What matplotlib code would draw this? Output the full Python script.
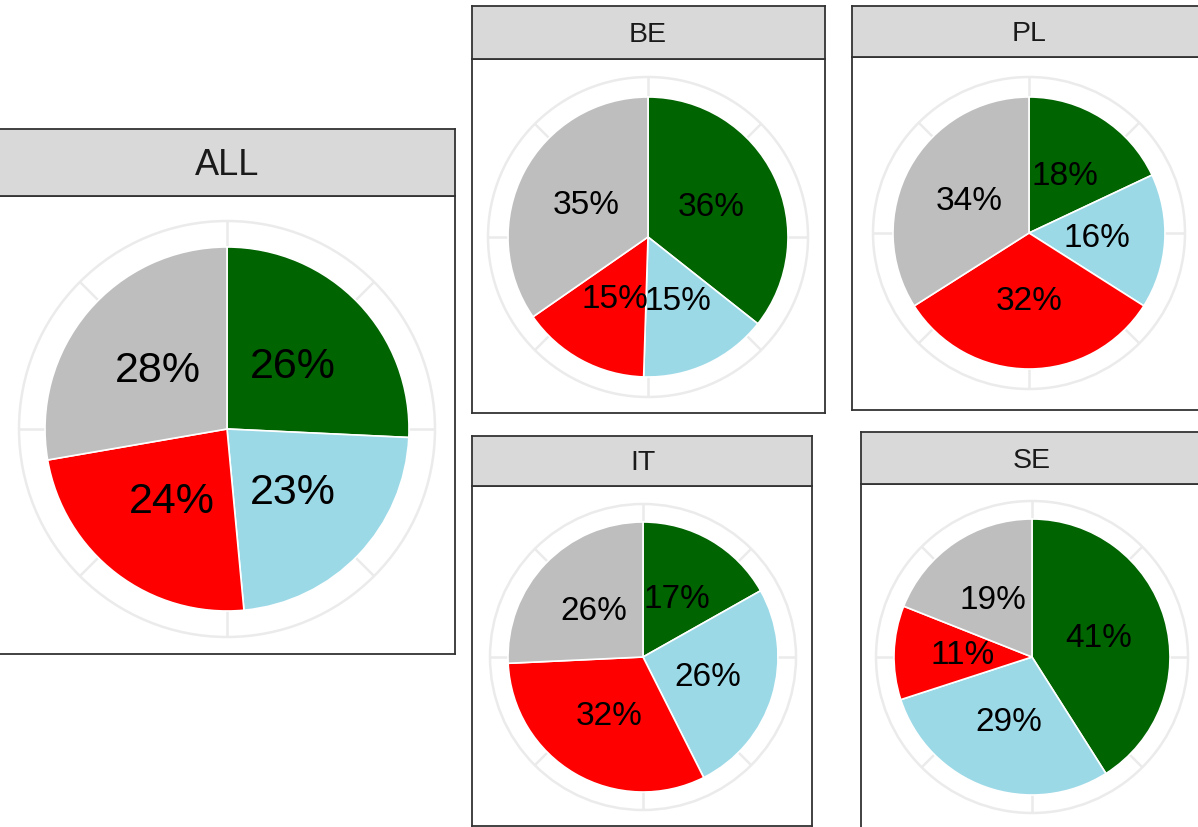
import matplotlib
matplotlib.use("Agg")
import matplotlib.pyplot as plt
import numpy as np
from matplotlib.patches import Circle

# ---- data ----
panels = ["ALL", "BE", "PL", "IT", "SE"]
colors = ["#006400", "#9CD9E7", "#FF0000", "#BEBEBE"]
all_vals = [26, 23, 24, 28]
be_vals = [36, 15, 15, 35]
pl_vals = [18, 16, 32, 34]
it_vals = [17, 26, 32, 26]
se_vals = [41, 29, 11, 19]
values = {"ALL": all_vals, "BE": be_vals, "PL": pl_vals, "IT": it_vals, "SE": se_vals}

W, H = 1198, 828
fig = plt.figure(figsize=(W / 100, H / 100), dpi=100)
fig.patch.set_facecolor("white")

# layout in pixels: panel x0, x1, strip top, strip bottom, panel bottom, pie cx, cy, pie r, outer r
layout = {
    "ALL": dict(x0=-2, x1=455, st=130, sb=197, pb=655, cx=227, cy=430, r=182, ro=208, fs=31, sfs=26),
    "BE": dict(x0=472, x1=825, st=7, sb=60, pb=414, cx=648, cy=238, r=140, ro=160, fs=24, sfs=20.5),
    "PL": dict(x0=852, x1=1210, st=7, sb=58, pb=411, cx=1029, cy=234, r=136, ro=156, fs=24, sfs=20.5),
    "IT": dict(x0=472, x1=812, st=437, sb=487, pb=827, cx=643, cy=658, r=135, ro=153, fs=24, sfs=20.5),
    "SE": dict(x0=861, x1=1210, st=433, sb=485, pb=840, cx=1032, cy=658, r=138, ro=156, fs=24, sfs=20.5),
}


def frac(x0, y0, x1, y1):
    return [x0 / W, 1 - y1 / H, (x1 - x0) / W, (y1 - y0) / H]


border = "#333333"
grid_c = "#EBEBEB"

for name in panels:
    L = layout[name]
    # panel body
    axb = fig.add_axes(frac(L["x0"], L["sb"], L["x1"], L["pb"]))
    axb.set_facecolor("white")
    axb.set_xticks([]); axb.set_yticks([])
    for s in axb.spines.values():
        s.set_color(border); s.set_linewidth(1.3)
    # strip
    axs = fig.add_axes(frac(L["x0"], L["st"], L["x1"], L["sb"]))
    axs.set_facecolor("#D9D9D9")
    axs.set_xticks([]); axs.set_yticks([])
    for s in axs.spines.values():
        s.set_color(border); s.set_linewidth(1.3)
    tx = (L["cx"] - L["x0"]) / (L["x1"] - L["x0"])
    axs.text(tx, 0.47, name, transform=axs.transAxes, ha="center", va="center",
             fontsize=L["sfs"], color="#1A1A1A", family="Liberation Sans")

    # pie
    pad = L["ro"] * 1.06
    axp = fig.add_axes(frac(L["cx"] - pad, L["cy"] - pad, L["cx"] + pad, L["cy"] + pad))
    axp.patch.set_alpha(0)
    ro = L["ro"] / L["r"]
    for k in range(8):
        a = np.deg2rad(90 - 45 * k)
        axp.plot([0, ro * np.cos(a)], [0, ro * np.sin(a)], color=grid_c, lw=1.8, zorder=0,
                 solid_capstyle="butt")
    axp.add_patch(Circle((0, 0), ro, fill=False, ec=grid_c, lw=1.8, zorder=0))
    vals = values[name]
    labels = iter([f"{v}%" for v in vals])
    axp.pie(vals, colors=colors, startangle=90, counterclock=False, radius=1,
            wedgeprops=dict(edgecolor="white", linewidth=1.2),
            autopct=lambda p: next(labels), pctdistance=0.5,
            textprops=dict(fontsize=L["fs"], color="black", family="Liberation Sans"))
    lim = pad / L["r"]
    axp.set_xlim(-lim, lim); axp.set_ylim(-lim, lim)
    axp.set_aspect("equal")
    axp.axis("off")

fig.savefig("out.png", dpi=100)
